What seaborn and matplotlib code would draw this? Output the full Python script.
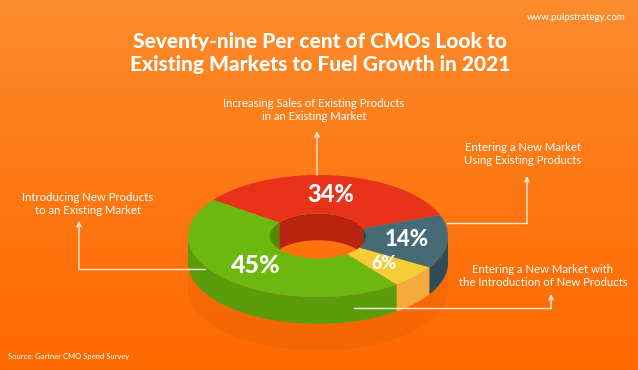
import numpy as np
import matplotlib
matplotlib.use("Agg")
import matplotlib.pyplot as plt
import matplotlib.colors as mcolors
from matplotlib.patches import Polygon, Circle
import seaborn as sns

# segments, counter-clockwise starting with the one at the top
segments = ["Increasing Sales of Existing Products\nin an Existing Market",
            "Introducing New Products\nto an Existing Market",
            "Entering a New Market with\nthe Introduction of New Products",
            "Entering a New Market\nUsing Existing Products"]
shares = [34, 45, 6, 14]
pct_labels = ["34%", "45%", "6%", "14%"]

title = "Seventy-nine Per cent of CMOs Look to\nExisting Markets to Fuel Growth in 2021"
site = "www.pulpstrategy.com"
source = "Source: Gartner CMO Spend Survey"

# colours: top face, outer wall, inner wall
top_colors = ["#e8331a", "#6cb80f", "#f7cc37", "#466a76"]
wall_colors = ["#c42a12", "#5a9c0c", "#f4aa3c", "#2f4c57"]
inner_colors = ["#b8240f", "#4e8a0a", "#d89a28", "#2c4852"]
pct_sizes = [17, 18, 13, 16]

W, H = 638, 370
CX, CY = 318, 236     # donut centre (pixels)
RX, RY = 130, 61      # half axes of the top face (pixels)
DEPTH = 0.44          # wall height in RY units
R_IN = 0.37

sns.set_theme(style="white")
plt.rcParams["font.family"] = ["Lato", "DejaVu Sans"]

fig = plt.figure(figsize=(W / 100, H / 100), dpi=100)

# --- background gradient
ax_bg = fig.add_axes([0, 0, 1, 1])
c_top = np.array(mcolors.to_rgb("#fc8e2f"))
c_bot = np.array(mcolors.to_rgb("#ff6900"))
t = np.linspace(0, 1, H)[:, None, None] ** 0.8
grad = np.repeat(c_top * (1 - t) + c_bot * t, W, axis=1)
ax_bg.imshow(grad, extent=(0, W, H, 0), aspect="auto")
ax_bg.set_xlim(0, W)
ax_bg.set_ylim(H, 0)
ax_bg.axis("off")

# --- donut
ax = fig.add_axes([0, 0, 1, 1])
ax.set_facecolor("none")
wedges, _ = ax.pie(shares, colors=top_colors, startangle=20, counterclock=True,
                   radius=1, center=(0, 0),
                   wedgeprops=dict(width=1 - R_IN, edgecolor="none", linewidth=0))
ax.set_aspect("auto")
ax.set_xlim(-CX / RX, (W - CX) / RX)
ax.set_ylim(-(H - CY) / RY, CY / RY)
ax.axis("off")


def arc_pieces(t1, t2, lo, hi):
    out = []
    for k in (-360, 0, 360):
        a, b = max(t1, lo + k), min(t2, hi + k)
        if b > a:
            out.append((a, b))
    return out


def wall(r, a, b, color, z, dy=0.0, alpha=1.0):
    th = np.radians(np.linspace(a, b, 80))
    x = r * np.cos(th)
    y = r * np.sin(th) - dy
    pts = np.column_stack([np.r_[x, x[::-1]], np.r_[y, y[::-1] - DEPTH]])
    p = Polygon(pts, closed=True, facecolor=color, edgecolor="none",
                zorder=z, alpha=alpha)
    ax.add_patch(p)
    return p


hole = Circle((0, 0), R_IN, transform=ax.transData)
for i, w in enumerate(wedges):
    w.set_zorder(3)
    for a, b in arc_pieces(w.theta1, w.theta2, 180, 360):
        wall(1, a, b, wall_colors[i], 2)
        wall(1, a, b, "#b84a00", 1, dy=DEPTH, alpha=0.13)
    for a, b in arc_pieces(w.theta1, w.theta2, 0, 180):
        p = wall(R_IN, a, b, inner_colors[i], 4)
        p.set_clip_path(hole)
    mid = np.radians((w.theta1 + w.theta2) / 2)
    r_mid = (1 + R_IN) / 2
    ax.text(r_mid * np.cos(mid), r_mid * np.sin(mid), pct_labels[i],
            ha="center", va="center", color="white", fontsize=pct_sizes[i],
            fontweight="black", zorder=6)

# --- texts and pointers
ax_t = fig.add_axes([0, 0, 1, 1])
ax_t.set_facecolor("none")
ax_t.set_xlim(0, W)
ax_t.set_ylim(H, 0)
ax_t.axis("off")

ax_t.text(320, 53, title, ha="center", va="center", color="white",
          fontsize=15, fontweight="black", linespacing=1.25)
ax_t.text(626, 18, site, ha="right", va="center", color="white", fontsize=7)
ax_t.text(8, 357, source, ha="left", va="center", color="white", fontsize=5.5)

label_pos = [(314, 110), (88, 204), (543, 276), (523, 154)]
pointers = [[(317, 175), (317, 131)],
            [(205, 269), (79, 269), (79, 221)],
            [(354, 308), (551, 308), (551, 294)],
            [(447, 223), (527, 223), (527, 176)]]

for txt, (lx, ly), path in zip(segments, label_pos, pointers):
    ax_t.text(lx, ly, txt, ha="center", va="center", color="white",
              fontsize=8.2, linespacing=1.3)
    xs, ys = zip(*path)
    ax_t.plot(xs[:-1], ys[:-1], color="white", lw=1, alpha=0.85)
    ax_t.annotate("", xy=path[-1], xytext=path[-2],
                  arrowprops=dict(arrowstyle="->", color="white", lw=1,
                                  alpha=0.85, shrinkA=0, shrinkB=0,
                                  mutation_scale=8))

fig.savefig("out.png", dpi=100)
